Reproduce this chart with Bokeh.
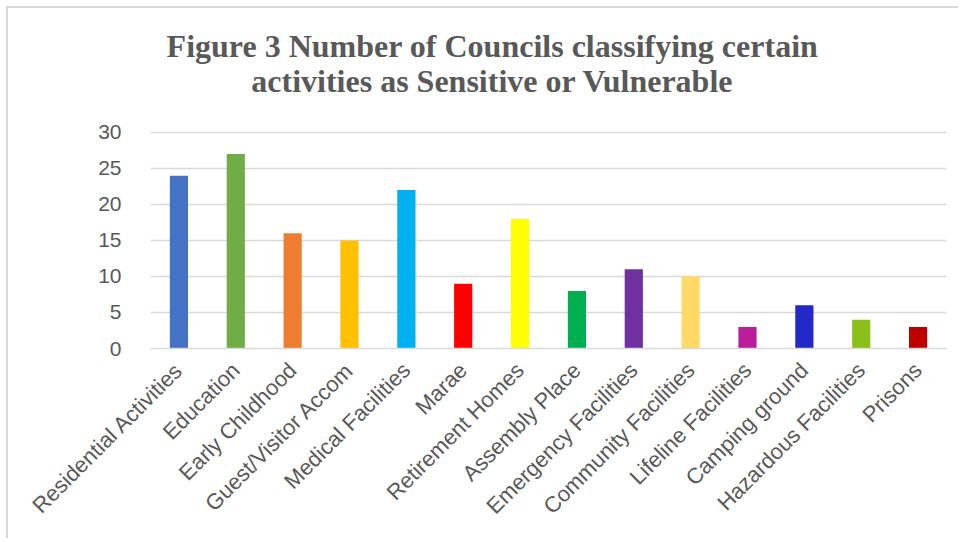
import math
from bokeh.plotting import figure
from bokeh.models import ColumnDataSource, Range1d, FixedTicker, Label
from bokeh.embed import file_html
from bokeh.resources import INLINE

categories = ["Residential Activities", "Education", "Early Childhood", "Guest/Visitor Accom",
              "Medical Facilities", "Marae", "Retirement Homes", "Assembly Place",
              "Emergency Facilities", "Community Facilities", "Lifeline Facilities",
              "Camping ground", "Hazardous Facilities", "Prisons"]
councils = [24, 27, 16, 15, 22, 9, 18, 8, 11, 10, 3, 6, 4, 3]
y_ticks = [0, 5, 10, 15, 20, 25, 30]
title_line1 = "Figure 3 Number of Councils classifying certain"
title_line2 = "activities as Sensitive or Vulnerable"

bar_colors = ["#4472C4", "#70AD47", "#ED7D31", "#FFC000", "#00B0F0", "#FF0000", "#FFFF00",
              "#00B050", "#7030A0", "#FFD966", "#BA1D9B", "#2229C8", "#8BC01A", "#C00000"]

src = ColumnDataSource(dict(cat=categories, val=councils, color=bar_colors))

# frame spans the whole height above the x axis; the extra range above 30 holds the title
p = figure(x_range=categories, y_range=Range1d(0, 47.22), width=952, height=532,
           output_backend="svg", toolbar_location=None, title=None,
           min_border_left=142, min_border_right=14, min_border_top=0, min_border_bottom=192)
p.styles = {"margin-left": "6px", "margin-top": "6px",
            "border-left": "2px solid #d9d9d9", "border-top": "2px solid #d9d9d9"}
p.outline_line_color = None

p.vbar(x="cat", top="val", width=0.32, fill_color="color", line_color=None, source=src)

for txt, yv in ((title_line1, 41.95), (title_line2, 37.1)):
    p.add_layout(Label(x=6.015, y=yv, text=txt,
                       text_align="center", text_baseline="alphabetic",
                       text_font="Liberation Serif", text_font_style="bold",
                       text_font_size="32px", text_color="#595959"))

p.xgrid.grid_line_color = None
p.ygrid.grid_line_color = "#d9d9d9"
p.ygrid.grid_line_width = 1.5
p.yaxis.ticker = FixedTicker(ticks=y_ticks)
p.ygrid.ticker = FixedTicker(ticks=y_ticks)
p.yaxis.axis_line_color = None
p.yaxis.major_tick_line_color = None
p.yaxis.minor_tick_line_color = None
p.yaxis.major_label_text_font = "Liberation Sans"
p.yaxis.major_label_text_font_size = "21px"
p.yaxis.major_label_text_color = "#595959"
p.yaxis.major_label_standoff = 23

p.xaxis.axis_line_color = "#d9d9d9"
p.xaxis.axis_line_width = 1.5
p.xaxis.major_tick_line_color = None
p.xaxis.minor_tick_line_color = None
p.xaxis.major_label_orientation = math.pi / 4
p.xaxis.major_label_text_font = "Liberation Sans"
p.xaxis.major_label_text_font_size = "22px"
p.xaxis.major_label_text_color = "#595959"
p.xaxis.major_label_standoff = 12

open("out.html", "w").write(file_html(p, INLINE))
